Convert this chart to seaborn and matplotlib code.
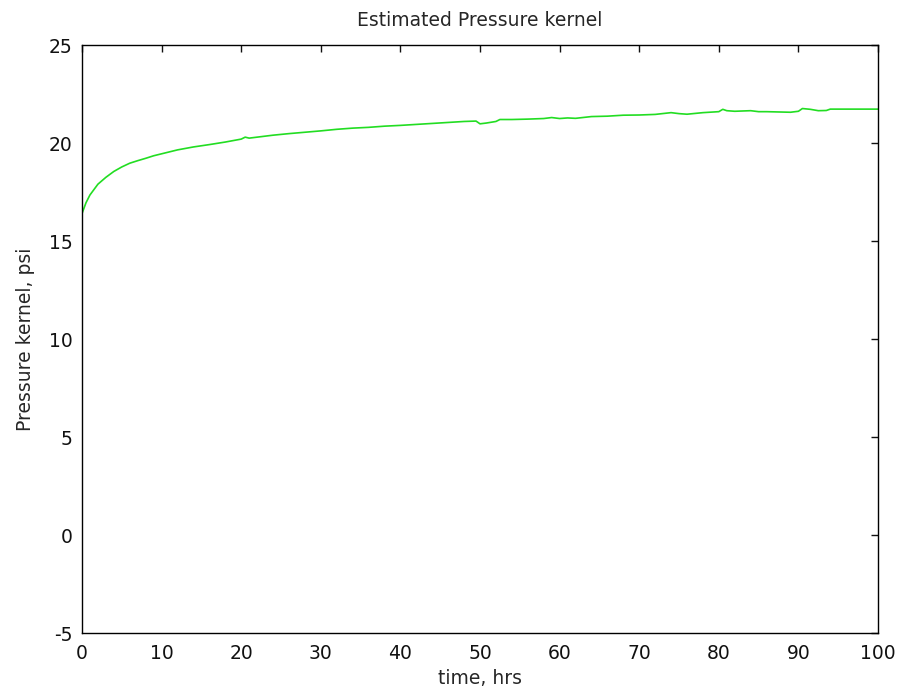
import pandas as pd
import matplotlib.pyplot as plt
import seaborn as sns

# values
time_hrs = [0, 0.5, 1, 2, 3, 4, 5, 6, 7, 8, 9, 10, 12, 14, 16, 18, 20, 20.5, 21, 22,
            24, 26, 28, 30, 32, 34, 36, 38, 40, 42, 44, 46, 48, 49.5, 50, 50.8, 52,
            52.5, 54, 56, 58, 59, 60, 61, 62, 64, 66, 68, 70, 72, 74, 75, 76, 78,
            80, 80.5, 81, 82, 84, 85, 86, 88, 89, 90, 90.5, 91.5, 92.5, 93.5, 94,
            96, 100]
pressure = [16.4, 16.95, 17.35, 17.9, 18.25, 18.55, 18.78, 18.97, 19.1, 19.22, 19.35, 19.45,
            19.65, 19.8, 19.92, 20.05, 20.2, 20.3, 20.25, 20.3, 20.4, 20.48, 20.55,
            20.62, 20.7, 20.76, 20.8, 20.86, 20.9, 20.95, 21.0, 21.05, 21.1, 21.12,
            20.98, 21.02, 21.1, 21.2, 21.2, 21.22, 21.25, 21.3, 21.25, 21.28, 21.26,
            21.35, 21.37, 21.42, 21.43, 21.46, 21.55, 21.5, 21.47, 21.55, 21.6, 21.72,
            21.65, 21.62, 21.65, 21.6, 21.6, 21.58, 21.57, 21.62, 21.76, 21.72, 21.65,
            21.66, 21.73, 21.73, 21.73]
x_ticks = list(range(0, 101, 10))
y_ticks = list(range(-5, 26, 5))

df = pd.DataFrame({'time': time_hrs, 'pressure': pressure})

sns.set_style('white')
plt.rcParams['font.family'] = ['DejaVu Sans']
plt.rcParams['axes.unicode_minus'] = False

fig = plt.figure(figsize=(9.01, 6.96), dpi=100)
ax = fig.add_axes([0.091, 0.0905, 0.8835, 0.8448])

sns.lineplot(data=df, x='time', y='pressure', color='#22dd22', linewidth=1.2, ax=ax)

ax.set_xlim(0, 100)
ax.set_ylim(-5, 25)
ax.set_xticks(x_ticks)
ax.set_yticks(y_ticks)
ax.tick_params(direction='in', length=5, width=1, top=True, right=True,
               labelsize=13.5, colors='#111111')
ax.tick_params(axis='x', pad=8)
ax.tick_params(axis='y', pad=7)
for s in ax.spines.values():
    s.set_color('black')
    s.set_linewidth(1)

ax.set_title('Estimated Pressure kernel', fontsize=13.5, pad=14)
ax.set_xlabel('time, hrs', fontsize=13.5, labelpad=4)
ax.set_ylabel('Pressure kernel, psi', fontsize=13.5, labelpad=10)

fig.savefig('out.png', dpi=100)
